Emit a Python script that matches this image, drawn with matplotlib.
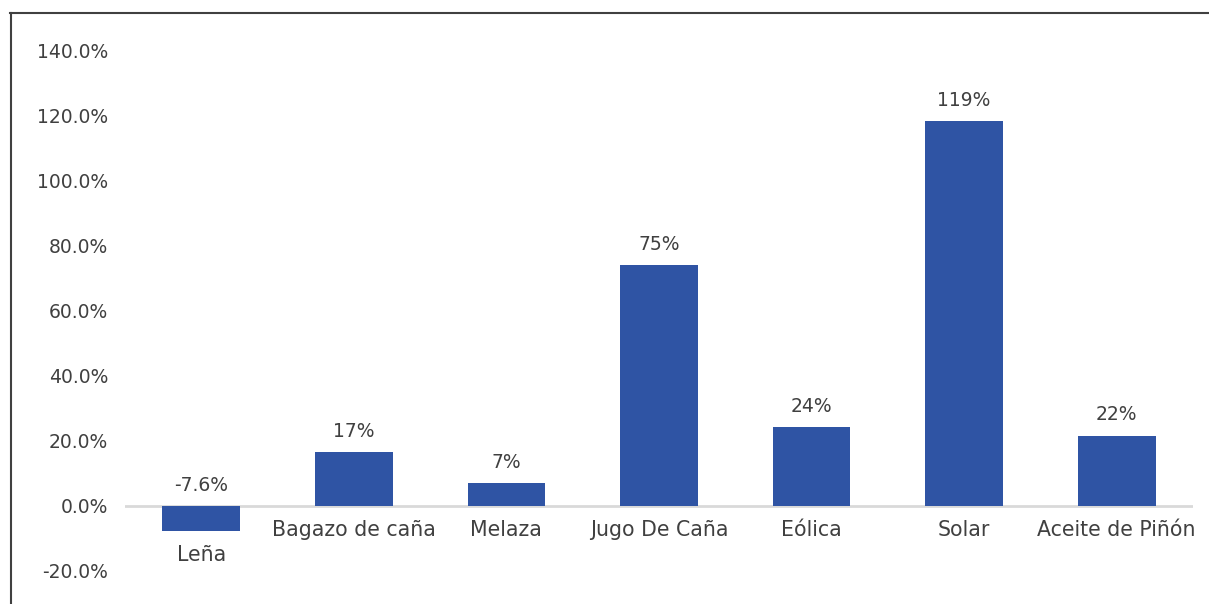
import matplotlib
matplotlib.use("Agg")
import matplotlib.pyplot as plt
from matplotlib.lines import Line2D

categories = ["Leña", "Bagazo de caña", "Melaza", "Jugo De Caña", "Eólica", "Solar", "Aceite de Piñón"]
values = [-7.6, 16.6, 7.1, 74.0, 24.2, 118.3, 21.6]
value_labels = ["-7.6%", "17%", "7%", "75%", "24%", "119%", "22%"]
yticks = [-20, 0, 20, 40, 60, 80, 100, 120, 140]
ytick_labels = ["-20.0%", "0.0%", "20.0%", "40.0%", "60.0%", "80.0%", "100.0%", "120.0%", "140.0%"]

plt.rcParams['font.family'] = ['DejaVu Sans']
W, H = 1209, 604
fig = plt.figure(figsize=(W/100, H/100), dpi=100)
ax = fig.add_axes([125/W, 1-571/H, (1193-125)/W, (571-50)/H])

text_color = "#404040"
bar_color = "#2F54A4"
fs = 13.5
fs_cat = 14.8
x = list(range(len(categories)))
ax.bar(x, values, width=0.51, color=bar_color, zorder=2)
ax.axhline(0, color="#d9d9d9", lw=2, zorder=1)
ax.set_xlim(-0.5, len(categories)-0.5)
ax.set_ylim(-20, 140)
ax.set_yticks(yticks)
ax.set_yticklabels(ytick_labels, fontsize=fs, color=text_color)
ax.tick_params(axis='y', length=0, pad=12)
ax.set_xticks([])
for s in ax.spines.values():
    s.set_visible(False)

for xi, v, lab, cat in zip(x, values, value_labels, categories):
    ax.annotate(lab, (xi, max(v, 0)), xytext=(0, 8), textcoords="offset points",
                ha="center", va="bottom", fontsize=fs, color=text_color)
    ax.annotate(cat, (xi, min(v, 0)), xytext=(0, -10), textcoords="offset points",
                ha="center", va="top", fontsize=fs_cat, color=text_color)

# outer frame lines (top and left)
fig.add_artist(Line2D([10/W, 1.0], [1-12.5/H, 1-12.5/H], color="#404040", lw=1.5, transform=fig.transFigure))
fig.add_artist(Line2D([10.5/W, 10.5/W], [0, 1-12.5/H], color="#404040", lw=1.5, transform=fig.transFigure))

fig.savefig("out.png", dpi=100)
